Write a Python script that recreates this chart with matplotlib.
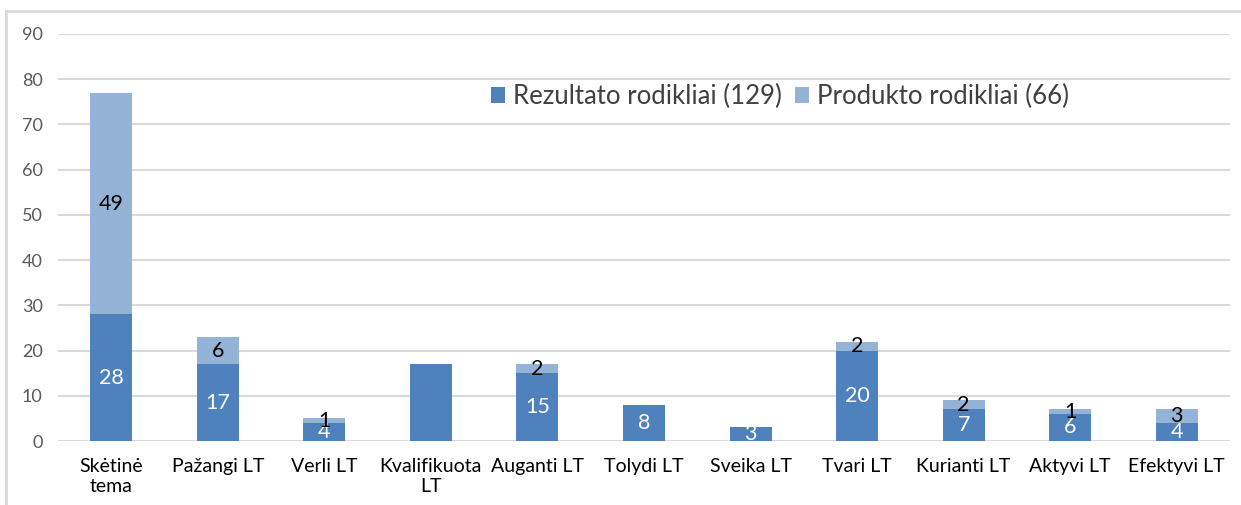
import matplotlib.pyplot as plt
import numpy as np

# duomenys
kategorijos = ['Skėtinė\ntema', 'Pažangi LT', 'Verli LT', 'Kvalifikuota\nLT', 'Auganti LT',
               'Tolydi LT', 'Sveika LT', 'Tvari LT', 'Kurianti LT', 'Aktyvi LT', 'Efektyvi LT']
rezultato = [28, 17, 4, 17, 15, 8, 3, 20, 7, 6, 4]
produkto = [49, 6, 1, 0, 2, 0, 0, 2, 2, 1, 3]
# Kvalifikuota LT stulpelis paveiksle be reikšmės
rodyti_rez = [True, True, True, False, True, True, True, True, True, True, True]
serijos = ['Rezultato rodikliai (129)', 'Produkto rodikliai (66)']

plt.rcParams['font.family'] = ['Lato', 'DejaVu Sans']

tamsi = '#4F81BD'
sviesi = '#95B3D7'

fig = plt.figure(figsize=(12.41, 5.05), dpi=100)
ax = fig.add_axes([58/1241, 64/505, (1230-58)/1241, 407/505])

x = np.arange(len(kategorijos))
ax.bar(x, rezultato, width=0.395, color=tamsi, label=serijos[0], zorder=3)
ax.bar(x, produkto, width=0.395, bottom=rezultato, color=sviesi, label=serijos[1], zorder=3)

# reikšmės ant stulpelių
for i in range(len(x)):
    if rodyti_rez[i] and rezultato[i] > 0:
        ax.text(x[i], rezultato[i] / 2, str(rezultato[i]), ha='center', va='center',
                color='white', fontsize=15.5, zorder=4)
    if produkto[i] > 0:
        ax.text(x[i], rezultato[i] + produkto[i] / 2, str(produkto[i]), ha='center', va='center',
                color='black', fontsize=15.5, zorder=5)

ax.set_xlim(-0.5, len(x) - 0.5)
ax.set_ylim(0, 90)
ax.set_yticks(range(0, 91, 10))
ax.yaxis.grid(True, color='#D9D9D9', linewidth=1.5, zorder=0)
ax.set_xticks(x)
ax.set_xticklabels(kategorijos, fontsize=14, color='black', linespacing=1.25)
ax.tick_params(axis='y', labelsize=13, labelcolor='#595959', length=0, pad=11)
ax.tick_params(axis='x', length=0, pad=12)
for s in ax.spines.values():
    s.set_visible(False)

ax.legend(loc='center left', bbox_to_anchor=(0.35, 0.846), ncol=2, frameon=False,
          fontsize=18.5, handlelength=0.55, handleheight=0.55, handletextpad=0.3,
          columnspacing=0.5, labelcolor='#404040')

# rėmelis aplink diagramą
fig.add_artist(plt.Line2D([6/1241, 1], [1 - 11/505, 1 - 11/505], color='#D9D9D9', linewidth=2))
fig.add_artist(plt.Line2D([6/1241, 6/1241], [0, 1 - 11/505], color='#D9D9D9', linewidth=2))

plt.savefig('out.png', dpi=100)
